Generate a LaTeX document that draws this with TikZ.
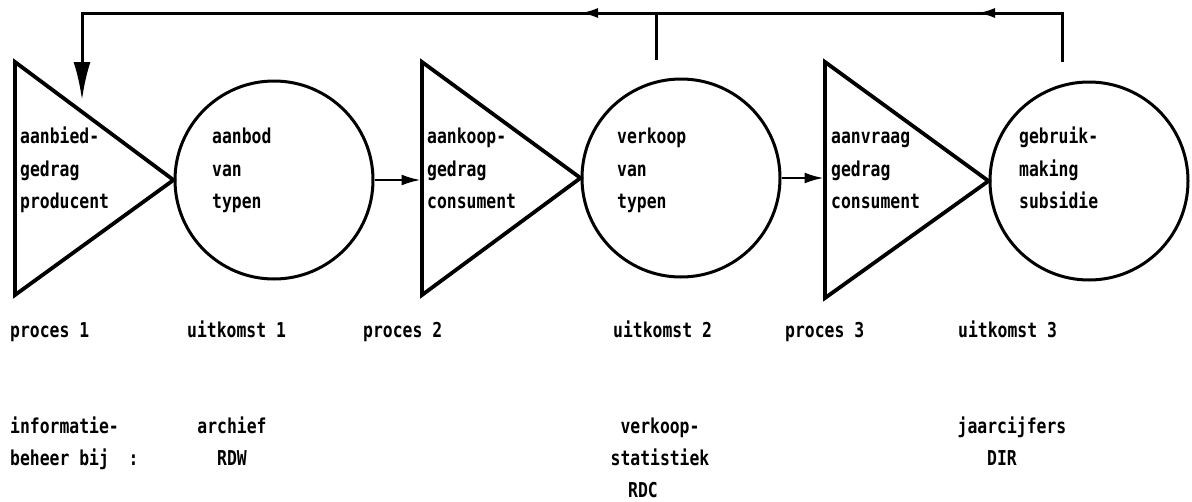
\documentclass[tikz,border=0pt]{standalone}
\usepackage{fontspec}
\setmonofont[FakeStretch=0.8]{DejaVu Sans Mono}
\usetikzlibrary{arrows.meta}
\begin{document}
\begin{tikzpicture}[x=1pt,y=-1pt,
  shapeline/.style={line width=3.8pt, line join=miter},
  conn/.style={line width=3pt},
  fwd/.style={line width=2.2pt},
  lbl/.style={font=\ttfamily\bfseries\fontsize{20.5}{24}\selectfont, inner sep=0pt, anchor=base west},
  clbl/.style={lbl, anchor=base},
  circ/.style={circle, draw, line width=3pt, minimum size=198pt, inner sep=0pt},
  bigtip/.style={-{Latex[length=38pt,width=17pt]}},
  smalltip/.style={-{Latex[length=19pt,width=11pt]}},
  toptip/.style={-{Latex[length=18pt,width=10pt]}}
]
\useasboundingbox (0,0) rectangle (1192,501);
% circles
\node[circ] (c1) at (274,180) {};
\node[circ] (c2) at (681,178) {};
\node[circ] (c3) at (1089,181) {};
% triangles
\coordinate (p1t) at (15,62);
\coordinate (p1b) at (15,295);
\draw[shapeline] (p1t) -- (c1.west) -- (p1b) -- cycle;
\coordinate (p2t) at (422,62);
\coordinate (p2b) at (422,295);
\draw[shapeline] (p2t) -- (c2.west) -- (p2b) -- cycle;
\coordinate (p3t) at (825,62);
\coordinate (p3b) at (825,298);
\draw[shapeline] (p3t) -- (c3.west) -- (p3b) -- cycle;
% forward arrows
\draw[fwd,smalltip] (c1.east) -- ([xshift=-1.5pt]c1.east -| p2t);
\draw[fwd,smalltip] (c2.east) -- ([xshift=-1.5pt]c2.east -| p3t);
% feedback
\coordinate (fbR) at (1062,62);
\coordinate (fbRt) at (1062,13);
\coordinate (tipA) at (977,13);
\coordinate (fbM) at (656,60);
\coordinate (fbMt) at (656,13);
\coordinate (tipB) at (580,13);
\coordinate (fbLt) at (82,13);
\coordinate (fbL) at (82,100);
\draw[conn,bigtip] (fbR) -- (fbRt) -- (fbLt) -- (fbL);
\draw[conn,toptip] (fbRt) -- (tipA);
\draw[conn] (fbM) -- (fbMt);
\draw[conn,toptip] (fbMt) -- (tipB);
% texts in shapes
\node[lbl] (t1a) at (20,143) {aanbied-};
\node[lbl] (t1b) at (20,176) {gedrag};
\node[lbl] (t1c) at (20,208) {producent};
\node[lbl] (u1a) at (212,143) {aanbod};
\node[lbl] (u1b) at (212,176) {van};
\node[lbl] (u1c) at (212,208) {typen};
\node[lbl] (t2a) at (427,143) {aankoop-};
\node[lbl] (t2b) at (427,176) {gedrag};
\node[lbl] (t2c) at (427,208) {consument};
\node[lbl] (u2a) at (617,143) {verkoop};
\node[lbl] (u2b) at (617,176) {van};
\node[lbl] (u2c) at (617,208) {typen};
\node[lbl] (t3a) at (831,143) {aanvraag};
\node[lbl] (t3b) at (831,176) {gedrag};
\node[lbl] (t3c) at (831,208) {consument};
\node[lbl] (u3a) at (1019,143) {gebruik-};
\node[lbl] (u3b) at (1019,176) {making};
\node[lbl] (u3c) at (1019,208) {subsidie};
% bottom labels
\node[lbl] (l1) at (10,337) {proces 1};
\node[lbl] (l2) at (187,337) {uitkomst 1};
\node[lbl] (l3) at (363,337) {proces 2};
\node[lbl] (l4) at (613,337) {uitkomst 2};
\node[lbl] (l5) at (785,337) {proces 3};
\node[lbl] (l6) at (958,337) {uitkomst 3};
\node[lbl] (i1) at (10,433) {informatie-};
\node[lbl] (i2) at (10,465) {beheer bij\ \ :};
\node[clbl] (a1) at (232,433) {archief};
\node[clbl] (a2) at (232,465) {RDW};
\node[clbl] (v1) at (660,433) {verkoop-};
\node[clbl] (v2) at (660,465) {statistiek};
\node[clbl] (v3) at (643,497) {RDC};
\node[clbl] (j1) at (1012,433) {jaarcijfers};
\node[clbl] (j2) at (1002,465) {DIR};
\end{tikzpicture}
\end{document}
